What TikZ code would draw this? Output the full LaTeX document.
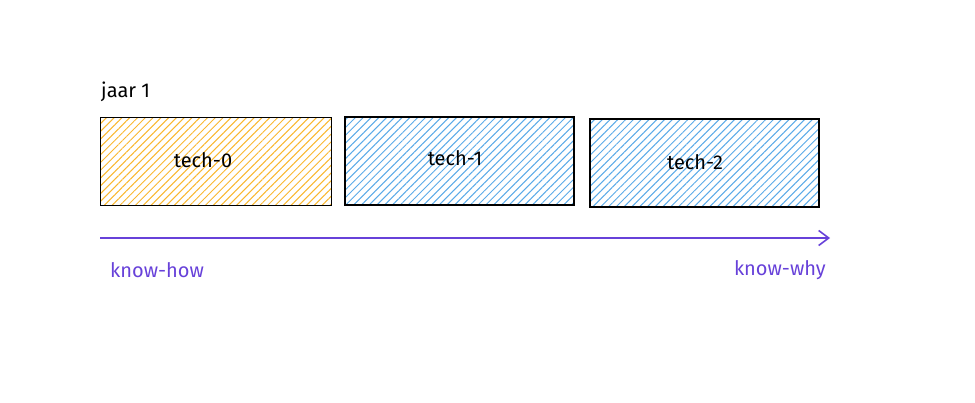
\documentclass[tikz,border=0pt]{standalone}
\usepackage{fontspec}
\setmainfont{Fira Sans}
\usetikzlibrary{patterns.meta,arrows.meta}
\definecolor{hatchy}{HTML}{FAB72E}
\definecolor{hatchb}{HTML}{5AAAE8}
\definecolor{arrowp}{HTML}{6741D9}
\tikzset{
  techbox/.style={draw=black,line width=1.8pt,minimum height=88pt,anchor=north west,inner sep=0pt},
  yhatch/.style={pattern={Lines[angle=45,distance=5.5pt,line width=1pt]},pattern color=hatchy},
  bhatch/.style={pattern={Lines[angle=45,distance=5.5pt,line width=1pt]},pattern color=hatchb},
  lbl/.style={font=\fontsize{20}{24}\selectfont,inner sep=0pt},
  plbl/.style={lbl,text=arrowp}
}
\begin{document}
\begin{tikzpicture}[x=1pt,y=-1pt]
\useasboundingbox (0,0) rectangle (975,403);
\node[techbox,yhatch,minimum width=231pt] (b0) at (100,117) {};
\node[techbox,bhatch,minimum width=229pt] (b1) at (344,116) {};
\node[techbox,bhatch,minimum width=229pt] (b2) at (589,118) {};
\node[lbl] (t0) at (203,160) {tech-0};
\node[lbl] (t1) at (455,158) {tech-1};
\node[lbl] (t2) at (695,162) {tech-2};
\node[lbl,anchor=west] (jaar) at (101,92) {jaar 1};
\coordinate (as) at (100,238);
\coordinate (ae) at (830,238);
\draw[arrowp,line width=1.6pt,-{Straight Barb[length=10pt,width=15pt,line width=1.6pt]}] (as) -- (ae);
\node[plbl,anchor=west] (kh) at (110,270) {know-how};
\node[plbl,anchor=east] (kw) at (826,270) {know-why};
\end{tikzpicture}
\end{document}
